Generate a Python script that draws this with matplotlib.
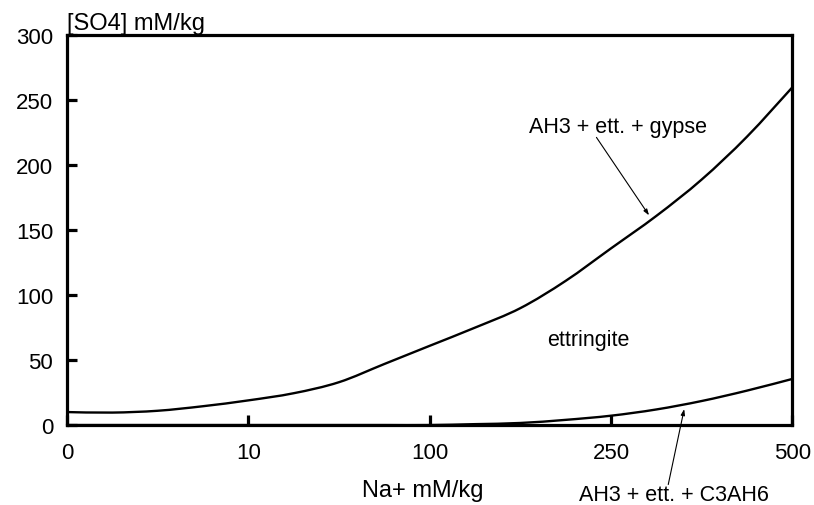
import numpy as np
import matplotlib
matplotlib.use("Agg")
import matplotlib.pyplot as plt
from matplotlib.path import Path
from matplotlib.patches import PathPatch

# categories on the Na+ axis (equally spaced)
na_labels = ["0", "10", "100", "250", "500"]
# curve samples, position along the category axis (0 = "0", 4 = "500")
pos = [0, 0.25, 0.5, 0.75, 1, 1.25, 1.5, 1.75, 2,
       2.25, 2.5, 2.75, 3, 3.25, 3.5, 3.75, 4]
# [SO4] mM/kg
so4_gypse = [10, 9.6, 11, 14.5, 19, 24.5, 33, 47, 61,
             75, 90, 111, 136, 161, 189, 222, 260]       # AH3 + ett. + gypse
so4_c3ah6 = [0, 0, 0, 0, 0, 0, 0, 0, 0,
             0.7, 1.6, 4, 7.2, 12, 18.5, 26.5, 35.5]     # AH3 + ett. + C3AH6

plt.rcParams["font.family"] = ["Liberation Sans", "DejaVu Sans"]


def smooth_path(xs, ys):
    # Catmull-Rom style bezier through the samples
    pts = np.column_stack([xs, ys]).astype(float)
    n = len(pts)
    verts = [pts[0]]
    codes = [Path.MOVETO]
    for i in range(n - 1):
        p0 = pts[max(i - 1, 0)]
        p1 = pts[i]
        p2 = pts[i + 1]
        p3 = pts[min(i + 2, n - 1)]
        verts += [p1 + (p2 - p0) / 6.0, p2 - (p3 - p1) / 6.0, p2]
        codes += [Path.CURVE4] * 3
    return Path(verts, codes)


fig = plt.figure(figsize=(8.14, 5.06), dpi=100)
ax = fig.add_axes([0.0823, 0.158, 0.891, 0.770])

for ys in (so4_gypse, so4_c3ah6):
    ax.add_patch(PathPatch(smooth_path(pos, ys), facecolor="none",
                           edgecolor="black", lw=1.7, capstyle="round"))

ax.set_xlim(0, len(na_labels) - 1)
ax.set_ylim(0, 300)
ax.set_xticks(range(len(na_labels)))
ax.set_xticklabels(na_labels)
ax.set_yticks(np.arange(0, 301, 50))

for s in ax.spines.values():
    s.set_linewidth(2.3)
ax.tick_params(axis="both", direction="in", length=7, width=2.3,
               labelsize=16)
ax.tick_params(axis="x", pad=12)
ax.tick_params(axis="y", pad=10)

# axis titles
ax.text(0, 305, "[SO4] mM/kg", fontsize=17, ha="left", va="baseline",
        clip_on=False)
ax.text(1.964, -54.6, "Na+ mM/kg", fontsize=17, ha="center",
        va="baseline", clip_on=False)

# region labels
arrow = dict(arrowstyle="-|>,head_length=0.35,head_width=0.12",
             lw=0.8, color="black", shrinkA=0, shrinkB=0)
ax.text(2.875, 61.8, "ettringite", fontsize=15.5, ha="center", va="baseline")
ax.text(3.04, 225.4, "AH3 + ett. + gypse", fontsize=15.5, ha="center",
        va="baseline")
ax.annotate("", xy=(3.21, 161.5), xytext=(2.92, 221.5), arrowprops=arrow)
ax.text(3.349, -57.6, "AH3 + ett. + C3AH6", fontsize=15.5, ha="center",
        va="baseline", clip_on=False)
ax.annotate("", xy=(3.404, 12.3), xytext=(3.316, -45.8), arrowprops=arrow,
            annotation_clip=False)

fig.savefig("out.png", dpi=100)
